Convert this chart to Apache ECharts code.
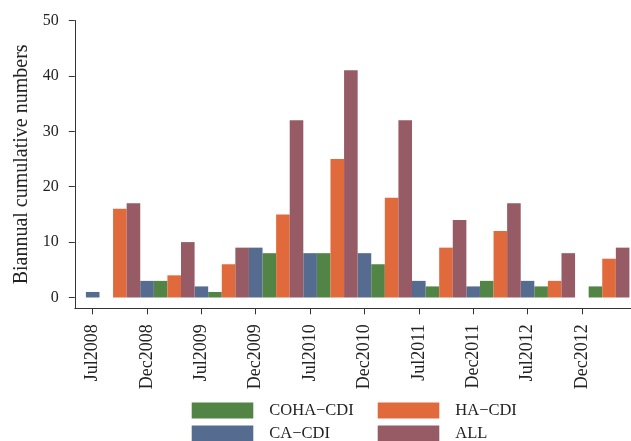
<!DOCTYPE html>
<html>
<head>
<meta charset="utf-8">
<script src="https://cdn.jsdelivr.net/npm/echarts@6/dist/echarts.min.js"></script>
<style>
  html, body { margin: 0; padding: 0; background: #ffffff; }
  #chart { width: 631px; height: 441px; }
</style>
</head>
<body>
<div id="chart"></div>
<script>
// Half-year reporting periods
const categories = ['Jul2008', 'Dec2008', 'Jul2009', 'Dec2009', 'Jul2010',
                    'Dec2010', 'Jul2011', 'Dec2011', 'Jul2012', 'Dec2012'];

// Biannual cumulative case counts per category
const cohaCdi = [0, 3, 1, 8, 8, 6, 2, 3, 2, 2];
const caCdi   = [1, 3, 2, 9, 8, 8, 3, 2, 3, 0];
const haCdi   = [16, 4, 6, 15, 25, 18, 9, 12, 3, 7];
const allCdi  = [17, 10, 9, 32, 41, 32, 14, 17, 8, 9];

// Value-axis tick labels
const yTicks = [0, 10, 20, 30, 40, 50];

const SERIF = '"Liberation Serif", "Times New Roman", serif';
const INK = '#222222';

// Each period is one unit on the x scale; the four series sit side by side
// starting at the period's tick.
function place(values, shift) {
  return values.map((v, i) => [i + shift, v]);
}

const seriesDefs = [
  { name: 'CA\u2212CDI',   values: caCdi,   shift: 0.00, color: '#566b90' },
  { name: 'COHA\u2212CDI', values: cohaCdi, shift: 0.25, color: '#528445' },
  { name: 'HA\u2212CDI',   values: haCdi,   shift: 0.50, color: '#e06a3c' },
  { name: 'ALL',           values: allCdi,  shift: 0.75, color: '#975b65' }
];

// Two-by-two key below the plot
const legendSlots = [
  { name: 'COHA\u2212CDI', left: 191.7, top: 402 },
  { name: 'HA\u2212CDI',   left: 377.7, top: 402 },
  { name: 'CA\u2212CDI',   left: 191.7, top: 425 },
  { name: 'ALL',           left: 377.7, top: 425 }
];

const chart = echarts.init(document.getElementById('chart'), null, { renderer: 'canvas' });

const legendText = { fontFamily: SERIF, fontSize: 16.5, color: INK, padding: [0, 0, 0, 11] };

chart.setOption({
  animation: false,
  backgroundColor: '#ffffff',
  grid: { left: 74.8, right: 0, top: 20.5, bottom: 132.7, containLabel: false },
  legend: legendSlots.map(s => ({
    left: s.left, top: s.top, padding: 0,
    itemWidth: 61.6, itemHeight: 16, icon: 'rect',
    data: [s.name], textStyle: legendText, selectedMode: false
  })),
  xAxis: {
    type: 'value',
    min: -0.329,
    max: 9.904,
    splitLine: { show: false },
    axisLine: { show: true, onZero: false, lineStyle: { color: '#333333', width: 1 } },
    axisTick: {
      show: true, length: 6, customValues: categories.map((c, i) => i),
      lineStyle: { color: '#333333', width: 1 }
    },
    axisLabel: {
      customValues: categories.map((c, i) => i),
      formatter: v => categories[Math.round(v)],
      rotate: 90, margin: 16,
      fontFamily: SERIF, fontSize: 18, color: INK
    }
  },
  yAxis: {
    type: 'value',
    min: -1.95,
    max: 50,
    name: 'Biannual cumulative numbers',
    nameLocation: 'middle',
    nameGap: 42,
    nameTextStyle: { fontFamily: SERIF, fontSize: 20, color: INK },
    splitLine: { show: false },
    axisLine: { show: true, onZero: false, lineStyle: { color: '#333333', width: 1 } },
    axisTick: {
      show: true, length: 6, customValues: yTicks,
      lineStyle: { color: '#333333', width: 1 }
    },
    axisLabel: {
      customValues: yTicks,
      margin: 16,
      fontFamily: SERIF, fontSize: 16, color: INK
    }
  },
  series: seriesDefs.map(d => ({
    name: d.name,
    type: 'bar',
    data: place(d.values, d.shift),
    barGap: '-100%',
    barCategoryGap: 0,
    itemStyle: { color: d.color },
    emphasis: { disabled: true }
  }))
});
</script>
</body>
</html>
